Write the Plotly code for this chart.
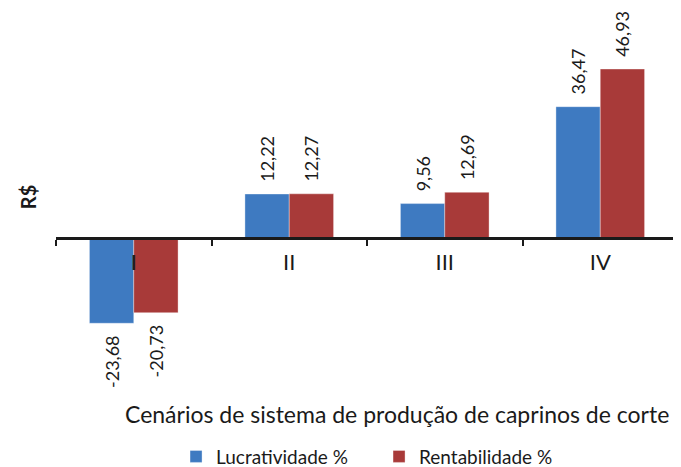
import plotly.graph_objects as go

CATEGORIES = ["I", "II", "III", "IV"]
LUCRATIVIDADE = [-23.68, 12.22, 9.56, 36.47]
RENTABILIDADE = [-20.73, 12.27, 12.69, 46.93]

BLUE = "#3E7AC1"
RED = "#A83A39"
INK = "#1a1a1a"
FONT = "Lato, 'Open Sans', sans-serif"

Y_RANGE = [-45.0, 63.33]
PAD = "\u00a0\u00a0"


def _fmt(v):
    s = f"{v:.2f}".replace(".", ",")
    # keep a gap between the label and the bar end
    return PAD + s if v >= 0 else s + PAD


fig = go.Figure()
for name, values, color in [
    ("Lucratividade %", LUCRATIVIDADE, BLUE),
    ("Rentabilidade %", RENTABILIDADE, RED),
]:
    fig.add_trace(
        go.Bar(
            x=CATEGORIES,
            y=values,
            name=name,
            marker=dict(color=color, line=dict(color="rgba(255,255,255,0.35)", width=1)),
            text=[_fmt(v) for v in values],
            textposition="outside",
            textangle=-90,
            constraintext="none",
            textfont=dict(family=FONT, size=18, color=INK),
            cliponaxis=False,
        )
    )

zero_pos = (0 - Y_RANGE[0]) / (Y_RANGE[1] - Y_RANGE[0])

# page body adds an 8px offset, so the figure is 8px smaller than the window
fig.update_layout(
    width=673,
    height=459,
    margin=dict(l=48, r=3, t=2, b=67, autoexpand=False),
    paper_bgcolor="white",
    plot_bgcolor="white",
    font=dict(family=FONT, color=INK, size=18),
    barmode="group",
    bargap=0.43,
    bargroupgap=0,
    legend=dict(
        orientation="h",
        x=0.193,
        xanchor="left",
        y=-0.145,
        yanchor="middle",
        font=dict(family=FONT, size=19, color=INK),
        entrywidth=158,
        itemwidth=30,
    ),
    annotations=[
        dict(
            text="Cenários de sistema de produção de caprinos de corte",
            xref="paper", yref="paper", x=0.5, xshift=30, y=-0.036,
            xanchor="center", yanchor="middle", showarrow=False,
            font=dict(family=FONT, size=23, color=INK),
        ),
        dict(
            text="<b>R$</b>",
            xref="paper", yref="paper", x=0, xshift=-28, y=0.52,
            xanchor="center", yanchor="middle", showarrow=False, textangle=-90,
            font=dict(family=FONT, size=20, color=INK),
        ),
    ],
)

fig.update_xaxes(
    anchor="free",
    position=zero_pos,
    automargin=False,
    showline=True,
    linecolor=INK,
    linewidth=2.5,
    ticks="outside",
    tickson="boundaries",
    ticklen=6,
    tickwidth=2,
    tickcolor=INK,
    ticklabelstandoff=4,
    tickfont=dict(family=FONT, size=22, color=INK),
    showgrid=False,
    zeroline=False,
)
fig.update_yaxes(
    range=Y_RANGE,
    automargin=False,
    showticklabels=False,
    showgrid=False,
    zeroline=False,
    showline=False,
)

fig.write_html("out.html")
